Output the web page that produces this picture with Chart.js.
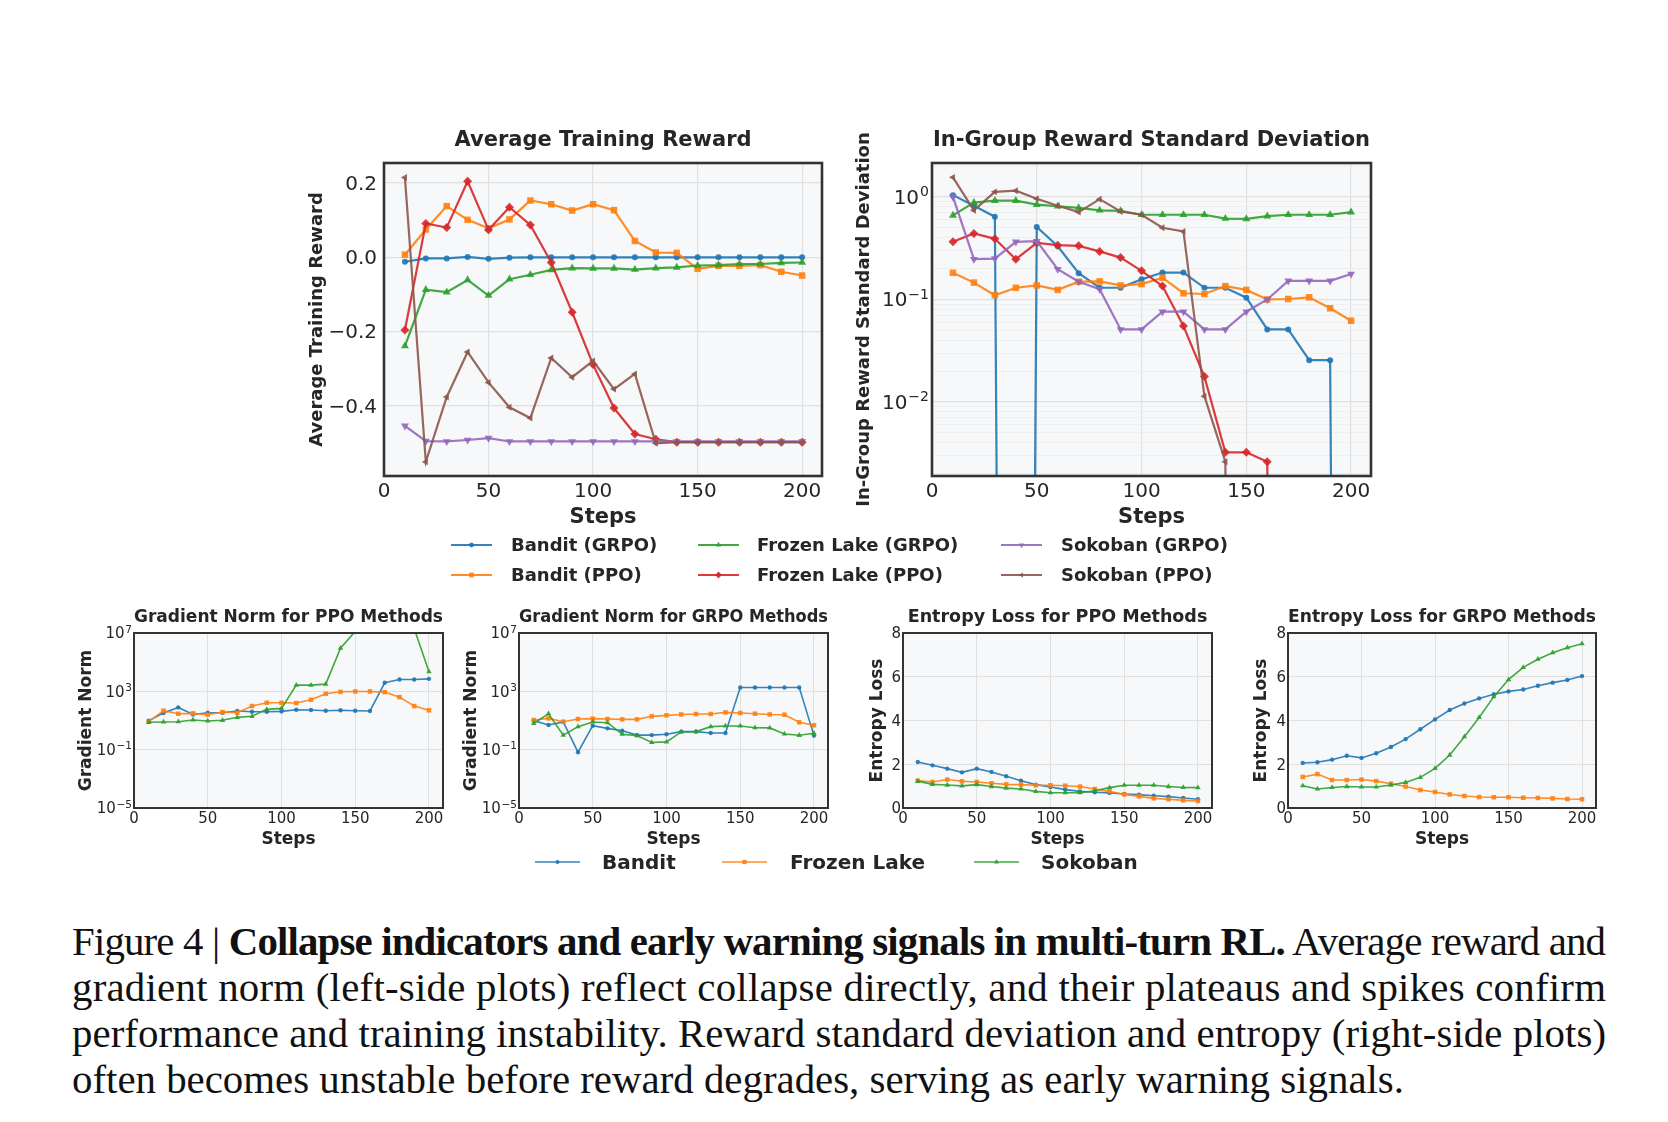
<!DOCTYPE html>
<html>
<head>
<meta charset="utf-8">
<title>Collapse indicators and early warning signals</title>
<script src="https://cdn.jsdelivr.net/npm/chart.js@4.4.1/dist/chart.umd.min.js"></script>
<style>
  html, body { margin: 0; background: #fff; }
  #page { position: relative; width: 1668px; height: 1122px; overflow: hidden; background: #fff; }
  #page canvas { position: absolute; }
  .lg { position: absolute; height: 30px; line-height: 30px; white-space: nowrap;
        font-family: "DejaVu Sans", sans-serif; font-weight: bold; color: #262626; }
  .sw { position: absolute; }
  #caption { position: absolute; left: 72px; top: 919px; width: 1534px;
             font-family: "Liberation Serif", serif; color: #111; }
  #caption .ln { height: 46px; line-height: 46px; white-space: nowrap; }
</style>
</head>
<body>
<div id="page">
  <div id="caption">
    <div class="ln"><span>Figure 4 | <b>Collapse indicators and early warning signals in multi-turn RL.</b> Average reward and</span></div>
    <div class="ln"><span>gradient norm (left-side plots) reflect collapse directly, and their plateaus and spikes confirm</span></div>
    <div class="ln"><span>performance and training instability. Reward standard deviation and entropy (right-side plots)</span></div>
    <div class="ln"><span>often becomes unstable before reward degrades, serving as early warning signals.</span></div>
  </div>
</div>
<script>
// ---- data ----
const steps = [10, 20, 30, 40, 50, 60, 70, 80, 90, 100, 110, 120, 130, 140, 150, 160, 170, 180, 190, 200];
const stepTicks = [0, 50, 100, 150, 200];

// Average Training Reward
const rewardBanditGrpo = [-0.012, -0.003, -0.003, 0.001, -0.004, -0.001, 0, 0, 0, 0, 0, 0, 0, 0, 0, 0, 0, 0, 0, 0];
const rewardBanditPpo = [0.007, 0.075, 0.138, 0.101, 0.078, 0.102, 0.153, 0.143, 0.126, 0.143, 0.127, 0.044, 0.013, 0.012, -0.031, -0.023, -0.023, -0.021, -0.039, -0.049];
const rewardFrozenGrpo = [-0.239, -0.087, -0.094, -0.061, -0.103, -0.059, -0.047, -0.034, -0.029, -0.030, -0.030, -0.033, -0.029, -0.027, -0.022, -0.021, -0.018, -0.018, -0.015, -0.014];
const rewardFrozenPpo = [-0.196, 0.091, 0.080, 0.205, 0.074, 0.135, 0.087, -0.014, -0.148, -0.289, -0.406, -0.476, -0.490, -0.498, -0.498, -0.498, -0.498, -0.498, -0.498, -0.498];
const rewardSokobanGrpo = [-0.454, -0.495, -0.496, -0.492, -0.487, -0.496, -0.496, -0.496, -0.496, -0.496, -0.496, -0.496, -0.496, -0.496, -0.496, -0.496, -0.496, -0.496, -0.496, -0.496];
const rewardSokobanPpo = [0.215, -0.551, -0.376, -0.255, -0.337, -0.404, -0.433, -0.271, -0.323, -0.279, -0.355, -0.314, -0.501, -0.498, -0.498, -0.498, -0.498, -0.498, -0.498, -0.498];
const rewardTicks = [-0.4, -0.2, 0.0, 0.2];

// In-Group Reward Standard Deviation (0 = collapsed, falls off the log axis)
const stdBanditGrpo = [1.04, 0.82, 0.64, 0, 0.51, 0.33, 0.18, 0.13, 0.13, 0.157, 0.183, 0.183, 0.13, 0.13, 0.104, 0.051, 0.051, 0.0256, 0.0256, 0];
const stdBanditPpo = [0.182, 0.146, 0.110, 0.130, 0.137, 0.124, 0.149, 0.150, 0.137, 0.141, 0.163, 0.115, 0.113, 0.135, 0.124, 0.100, 0.101, 0.105, 0.082, 0.062];
const stdFrozenGrpo = [0.66, 0.88, 0.92, 0.92, 0.84, 0.81, 0.78, 0.74, 0.73, 0.67, 0.67, 0.67, 0.67, 0.615, 0.61, 0.65, 0.67, 0.67, 0.67, 0.71];
const stdFrozenPpo = [0.365, 0.44, 0.39, 0.247, 0.356, 0.338, 0.333, 0.294, 0.256, 0.19, 0.135, 0.055, 0.0177, 0.00323, 0.00323, 0.00262, 0, 0, 0, 0];
const stdSokobanGrpo = [1.0, 0.247, 0.25, 0.365, 0.37, 0.197, 0.149, 0.126, 0.051, 0.051, 0.076, 0.076, 0.051, 0.051, 0.076, 0.1, 0.152, 0.152, 0.152, 0.177];
const stdSokobanPpo = [1.55, 0.74, 1.12, 1.15, 0.96, 0.82, 0.71, 0.95, 0.72, 0.67, 0.5, 0.46, 0.0114, 0.00262, 0, 0, 0, 0, 0, 0];
const stdTicks = [0.002, 0.003, 0.004, 0.005, 0.006, 0.007, 0.008, 0.009, 0.01,
                  0.02, 0.03, 0.04, 0.05, 0.06, 0.07, 0.08, 0.09, 0.1,
                  0.2, 0.3, 0.4, 0.5, 0.6, 0.7, 0.8, 0.9, 1, 2];
const stdTickLabels = [0.01, 0.1, 1];

// Gradient Norm
const gradPpoBandit = [9.8, 33, 79, 26, 34, 34, 45, 40, 40, 42, 55, 52, 47, 50, 47, 45, 3850, 6500, 6500, 7200];
const gradPpoFrozen = [8.3, 47, 29, 31, 25, 38, 34, 98, 165, 165, 157, 265, 680, 930, 980, 980, 885, 400, 98, 50];
const gradPpoSokoban = [7.5, 7.9, 8.3, 10.8, 9.3, 10.3, 16.5, 19.3, 58, 68, 2660, 2660, 3120, 9e5, 1.3e7, 3e7, 5e7, 4e7, 2e7, 2.2e4];
const gradGrpoBandit = [9.8, 4.9, 7.9, 0.067, 4.4, 2.9, 2.0, 1.0, 1.0, 1.14, 1.73, 1.73, 1.4, 1.4, 1850, 1850, 1850, 1850, 1850, 0.92];
const gradGrpoFrozen = [10.8, 14, 8.3, 12.7, 13.4, 12.7, 12, 12, 19.3, 22.5, 26, 27.8, 27.8, 36, 32.6, 29.3, 26, 25, 7.5, 4.7];
const gradGrpoSokoban = [6.4, 29, 1.0, 3.8, 7.9, 7.1, 1.14, 0.92, 0.31, 0.34, 1.64, 1.73, 3.8, 4.2, 4.2, 3.2, 3.1, 1.2, 0.97, 1.33];
const gradTicks = [1e-5, 1e-1, 1e3, 1e7];

// Entropy Loss
const entPpoBandit = [2.10, 1.95, 1.80, 1.63, 1.80, 1.65, 1.45, 1.25, 1.07, 0.96, 0.84, 0.76, 0.72, 0.69, 0.64, 0.61, 0.56, 0.52, 0.46, 0.40];
const entPpoFrozen = [1.25, 1.19, 1.30, 1.22, 1.19, 1.13, 1.08, 1.07, 1.04, 1.04, 1.02, 0.98, 0.87, 0.76, 0.62, 0.53, 0.44, 0.40, 0.35, 0.32];
const entPpoSokoban = [1.22, 1.08, 1.05, 1.01, 1.07, 0.98, 0.91, 0.87, 0.76, 0.70, 0.70, 0.70, 0.79, 0.93, 1.04, 1.04, 1.04, 0.98, 0.94, 0.93];
const entGrpoBandit = [2.06, 2.09, 2.21, 2.39, 2.29, 2.50, 2.79, 3.15, 3.60, 4.05, 4.48, 4.78, 5.01, 5.20, 5.33, 5.42, 5.59, 5.73, 5.85, 6.03];
const entGrpoFrozen = [1.42, 1.55, 1.28, 1.28, 1.30, 1.23, 1.11, 0.98, 0.82, 0.73, 0.62, 0.55, 0.50, 0.49, 0.49, 0.47, 0.46, 0.44, 0.41, 0.40];
const entGrpoSokoban = [1.02, 0.87, 0.94, 0.98, 0.96, 0.96, 1.05, 1.17, 1.40, 1.81, 2.42, 3.26, 4.14, 5.09, 5.87, 6.43, 6.80, 7.10, 7.33, 7.51];
const entropyTicks = [0, 2, 4, 6, 8];

// ---- styles ----
const INK = '#262626';
const GRID = '#e0e0e0';
const GRID_MINOR = '#ececec';
const PLOT_BG = '#f7f8fa';
const FRAME = '#333333';
const C = {
  blue: 'rgba(31,119,180,0.9)', orange: 'rgba(255,127,14,0.9)', green: 'rgba(44,160,44,0.9)',
  red: 'rgba(214,39,40,0.9)', purple: 'rgba(148,103,189,0.9)', brown: 'rgba(140,86,75,0.9)'
};
const topStyle = {
  banditGrpo: { color: C.blue, marker: 'circle', r: 3, rot: 0 },
  banditPpo: { color: C.orange, marker: 'rect', r: 4.6, rot: 0 },
  frozenGrpo: { color: C.green, marker: 'triangle', r: 4.6, rot: 0 },
  frozenPpo: { color: C.red, marker: 'rectRot', r: 4.5, rot: 0 },
  sokobanGrpo: { color: C.purple, marker: 'triangle', r: 4.6, rot: 180 },
  sokobanPpo: { color: C.brown, marker: 'triangle', r: 4, rot: 270 }
};
const envStyle = {
  bandit: { color: C.blue, marker: 'circle', r: 2.2, rot: 0 },
  frozen: { color: C.orange, marker: 'rect', r: 3.2, rot: 0 },
  sokoban: { color: C.green, marker: 'triangle', r: 3.2, rot: 0 }
};

Chart.defaults.font.family = "'DejaVu Sans', sans-serif";
Chart.defaults.color = INK;

const isDecade = v => Math.abs(Math.log10(v) - Math.round(Math.log10(v))) < 1e-6;
const LABEL_DROP = 1.5; // matplotlib centres tick labels slightly lower than canvas 'middle'

// plot background, full frame, the vertical y title and 10^n tick labels
const plotFrame = {
  id: 'plotFrame',
  beforeDraw(chart, args, o) {
    const { ctx, chartArea: a } = chart;
    ctx.save();
    ctx.fillStyle = o.fill;
    ctx.fillRect(a.left, a.top, a.width, a.height);
    ctx.restore();
  },
  afterDraw(chart, args, o) {
    const { ctx, chartArea: a } = chart;
    ctx.save();
    ctx.strokeStyle = o.stroke;
    ctx.lineWidth = o.width;
    ctx.strokeRect(a.left, a.top, a.width, a.height);

    if (o.logTicks) {
      const { values, size, pad } = o.logTicks;
      const ys = chart.scales.y;
      ctx.fillStyle = INK;
      ctx.textAlign = 'right';
      ctx.textBaseline = 'middle';
      values.forEach(v => {
        const py = ys.getPixelForValue(v) + LABEL_DROP;
        const exp = String(Math.round(Math.log10(v))).replace('-', '\u2212');
        const x = a.left - pad;
        ctx.font = `${size * 0.7}px 'DejaVu Sans'`;
        ctx.fillText(exp, x, py - size * 0.3);
        const ew = ctx.measureText(exp).width;
        ctx.font = `${size}px 'DejaVu Sans'`;
        ctx.fillText('10', x - ew - size * 0.05, py);
      });
    }

    if (o.yTitle) {
      ctx.translate(o.yTitleX, (a.top + a.bottom) / 2);
      ctx.rotate(-Math.PI / 2);
      ctx.font = `bold ${o.yTitleSize}px 'DejaVu Sans'`;
      ctx.fillStyle = INK;
      ctx.textAlign = 'center';
      ctx.textBaseline = 'middle';
      ctx.fillText(o.yTitle, 0, 0);
    }
    ctx.restore();
  }
};
Chart.register(plotFrame);

const page = document.getElementById('page');

function series(label, values, style, lw, order) {
  return {
    label,
    data: steps.map((s, i) => ({ x: s, y: values[i] })),
    borderColor: style.color,
    backgroundColor: style.color,
    pointBackgroundColor: style.color,
    borderWidth: lw,
    pointStyle: style.marker,
    pointRadius: style.r,
    pointRotation: style.rot,
    pointBorderWidth: 0,
    tension: 0,
    clip: 0,
    order
  };
}

function makeChart(p) {
  const tLine = p.titleSize * 1.2;
  const xLine = p.xTitleSize * 1.2;
  const left = Math.floor(p.yTitleX - p.yTitleSize);
  const top = Math.floor(p.titleMid - tLine / 2 - 2);
  const bottom = Math.ceil(p.xTitleMid + xLine / 2 + 2);
  const right = p.r + 24;
  const canvas = document.createElement('canvas');
  canvas.width = right - left;
  canvas.height = bottom - top;
  canvas.style.left = left + 'px';
  canvas.style.top = top + 'px';
  canvas.style.width = canvas.width + 'px';
  canvas.style.height = canvas.height + 'px';
  page.appendChild(canvas);
  const padTop = p.titleMid - tLine / 2 - top;

  return new Chart(canvas, {
    type: 'line',
    data: { datasets: p.datasets },
    options: {
      responsive: false,
      animation: false,
      devicePixelRatio: 1,
      layout: { padding: { left: 0, top: 0, right: 24, bottom: 0 } },
      plugins: {
        legend: { display: false },
        tooltip: { enabled: false },
        title: {
          display: true, text: p.title, fullSize: false, color: INK,
          font: { size: p.titleSize, weight: 'bold', lineHeight: 1.2 },
          padding: { top: padTop, bottom: p.t - top - padTop - tLine }
        },
        plotFrame: {
          fill: PLOT_BG, stroke: FRAME, width: p.frameWidth,
          yTitle: p.yTitle, yTitleX: p.yTitleX - left, yTitleSize: p.yTitleSize,
          logTicks: p.logTicks || null
        }
      },
      scales: {
        x: {
          type: 'linear', min: 0, max: 209.5,
          afterBuildTicks: s => { s.ticks = stepTicks.map(v => ({ value: v })); },
          afterFit: s => { s.height = bottom - p.b; },
          grid: { color: GRID, lineWidth: p.gridWidth, drawTicks: false },
          border: { display: false },
          ticks: { padding: p.xTickPad, color: INK, font: { size: p.tickSize, lineHeight: 1.2 },
                   autoSkip: false, maxRotation: 0, callback: v => String(v) },
          title: { display: true, text: 'Steps', color: INK,
                   font: { size: p.xTitleSize, weight: 'bold', lineHeight: 1.2 },
                   padding: { top: 0, bottom: bottom - p.xTitleMid - xLine / 2 } }
        },
        y: Object.assign({
          afterFit: s => { s.width = p.l - left; },
          border: { display: false }
        }, p.y)
      }
    }
  });
}

const TOP = { titleSize: 21, titleMid: 140.5, xTitleSize: 21, xTitleMid: 518, yTitleSize: 18,
              tickSize: 20, xTickPad: 4, frameWidth: 2.6, gridWidth: 1.2 };
const BOT = { titleSize: 17.5, titleMid: 617.5, xTitleSize: 17, xTitleMid: 840, yTitleSize: 17,
              tickSize: 15, xTickPad: 2.5, frameWidth: 2, gridWidth: 1 };

function topSets(v) {
  return [
    series('Bandit (GRPO)', v[0], topStyle.banditGrpo, 2.2, 6),
    series('Bandit (PPO)', v[1], topStyle.banditPpo, 2.2, 5),
    series('Frozen Lake (GRPO)', v[2], topStyle.frozenGrpo, 2.2, 4),
    series('Frozen Lake (PPO)', v[3], topStyle.frozenPpo, 2.2, 3),
    series('Sokoban (GRPO)', v[4], topStyle.sokobanGrpo, 2.2, 2),
    series('Sokoban (PPO)', v[5], topStyle.sokobanPpo, 2.2, 1)
  ];
}
function envSets(v) {
  return [
    series('Bandit', v[0], envStyle.bandit, 1.6, 3),
    series('Frozen Lake', v[1], envStyle.frozen, 1.6, 2),
    series('Sokoban', v[2], envStyle.sokoban, 1.6, 1)
  ];
}
// matplotlib sends log(0) to -inf: push zeros far below the axis so the line drops off the plot
const offLog = v => (v === 0 ? 1e-30 : v);

makeChart(Object.assign({}, TOP, {
  l: 384, t: 163, r: 822, b: 476, yTitleX: 317.5,
  title: 'Average Training Reward', yTitle: 'Average Training Reward',
  datasets: topSets([rewardBanditGrpo, rewardBanditPpo, rewardFrozenGrpo, rewardFrozenPpo, rewardSokobanGrpo, rewardSokobanPpo]),
  y: {
    type: 'linear', min: -0.589, max: 0.254,
    afterBuildTicks: s => { s.ticks = rewardTicks.map(v => ({ value: v })); },
    grid: { color: GRID, lineWidth: 1.2, drawTicks: false },
    ticks: { padding: 7, labelOffset: LABEL_DROP, color: INK, font: { size: 20 }, autoSkip: false,
             callback: v => v.toFixed(1).replace('-', '\u2212') }
  }
}));

makeChart(Object.assign({}, TOP, {
  l: 932, t: 163, r: 1371, b: 476, yTitleX: 864,
  title: 'In-Group Reward Standard Deviation', yTitle: 'In-Group Reward Standard Deviation',
  datasets: topSets([stdBanditGrpo, stdBanditPpo, stdFrozenGrpo, stdFrozenPpo, stdSokobanGrpo, stdSokobanPpo].map(a => a.map(offLog))),
  logTicks: { values: stdTickLabels, size: 20, pad: 3 },
  y: {
    type: 'logarithmic', min: 0.0019, max: 2.14,
    afterBuildTicks: s => { s.ticks = stdTicks.map(v => ({ value: v })); },
    grid: { color: c => (c.tick && isDecade(c.tick.value) ? GRID : GRID_MINOR),
            lineWidth: c => (c.tick && isDecade(c.tick.value) ? 1.2 : 0.8), drawTicks: false },
    ticks: { display: false }
  }
}));

const gradY = {
  type: 'logarithmic', min: 1e-5, max: 1e7,
  afterBuildTicks: s => { s.ticks = gradTicks.map(v => ({ value: v })); },
  grid: { color: GRID, lineWidth: 1, drawTicks: false },
  ticks: { display: false }
};
const entY = {
  type: 'linear', min: 0, max: 8,
  afterBuildTicks: s => { s.ticks = entropyTicks.map(v => ({ value: v })); },
  grid: { color: GRID, lineWidth: 1, drawTicks: false },
  ticks: { padding: 2, labelOffset: LABEL_DROP, color: INK, font: { size: 15 }, autoSkip: false,
           callback: v => String(v) }
};
const gradLabels = { values: gradTicks, size: 15, pad: 2 };

makeChart(Object.assign({}, BOT, {
  l: 134, t: 633, r: 443, b: 808, yTitleX: 86.5,
  title: 'Gradient Norm for PPO Methods', yTitle: 'Gradient Norm', logTicks: gradLabels,
  datasets: envSets([gradPpoBandit, gradPpoFrozen, gradPpoSokoban]), y: gradY
}));
makeChart(Object.assign({}, BOT, {
  l: 519, t: 633, r: 828, b: 808, yTitleX: 471.5,
  title: 'Gradient Norm for GRPO Methods', yTitle: 'Gradient Norm', logTicks: gradLabels,
  datasets: envSets([gradGrpoBandit, gradGrpoFrozen, gradGrpoSokoban]), y: gradY
}));
makeChart(Object.assign({}, BOT, {
  l: 903, t: 633, r: 1212, b: 808, yTitleX: 877.5,
  title: 'Entropy Loss for PPO Methods', yTitle: 'Entropy Loss',
  datasets: envSets([entPpoBandit, entPpoFrozen, entPpoSokoban]), y: entY
}));
makeChart(Object.assign({}, BOT, {
  l: 1288, t: 633, r: 1596, b: 808, yTitleX: 1261.5,
  title: 'Entropy Loss for GRPO Methods', yTitle: 'Entropy Loss',
  datasets: envSets([entGrpoBandit, entGrpoFrozen, entGrpoSokoban]), y: entY
}));

// ---- legends ----
function swatch(style, len, lw, r) {
  const h = 20, cy = 10, cx = len / 2;
  let mark;
  if (style.marker === 'circle') {
    mark = `<circle cx="${cx}" cy="${cy}" r="${r}"/>`;
  } else if (style.marker === 'rect') {
    const s = r * 0.707;
    mark = `<rect x="${cx - s}" y="${cy - s}" width="${2 * s}" height="${2 * s}"/>`;
  } else if (style.marker === 'rectRot') {
    mark = `<polygon points="${cx},${cy - r} ${cx + r},${cy} ${cx},${cy + r} ${cx - r},${cy}"/>`;
  } else {
    const pts = [0, 1, 2].map(k => {
      const a = (style.rot + k * 120) * Math.PI / 180;
      return `${cx + Math.sin(a) * r},${cy - Math.cos(a) * r}`;
    }).join(' ');
    mark = `<polygon points="${pts}"/>`;
  }
  return `<svg width="${len}" height="${h}" viewBox="0 0 ${len} ${h}"><g fill="${style.color}">` +
         `<line x1="0" y1="${cy}" x2="${len}" y2="${cy}" stroke="${style.color}" stroke-width="${lw}"/>${mark}</g></svg>`;
}
function legendItem(label, style, lineX, lineLen, textX, y, size, lw, r) {
  const sw = document.createElement('div');
  sw.className = 'sw';
  sw.style.left = lineX + 'px';
  sw.style.top = (y - 10) + 'px';
  sw.innerHTML = swatch(style, lineLen, lw, r);
  page.appendChild(sw);
  const tx = document.createElement('div');
  tx.className = 'lg';
  tx.style.left = textX + 'px';
  tx.style.top = (y - 15) + 'px';
  tx.style.fontSize = size + 'px';
  tx.textContent = label;
  page.appendChild(tx);
}
legendItem('Bandit (GRPO)', topStyle.banditGrpo, 451, 41, 511, 545, 18, 2.2, 2.4);
legendItem('Bandit (PPO)', topStyle.banditPpo, 451, 41, 511, 575, 18, 2.2, 3.4);
legendItem('Frozen Lake (GRPO)', topStyle.frozenGrpo, 698, 41, 757, 545, 18, 2.2, 3.2);
legendItem('Frozen Lake (PPO)', topStyle.frozenPpo, 698, 41, 757, 575, 18, 2.2, 3.4);
legendItem('Sokoban (GRPO)', topStyle.sokobanGrpo, 1001, 41, 1061, 545, 18, 2.2, 3.2);
legendItem('Sokoban (PPO)', topStyle.sokobanPpo, 1001, 41, 1061, 575, 18, 2.2, 3);

legendItem('Bandit', envStyle.bandit, 535, 45, 602, 861.5, 20, 1.6, 2);
legendItem('Frozen Lake', envStyle.frozen, 722, 45, 790, 861.5, 20, 1.6, 3);
legendItem('Sokoban', envStyle.sokoban, 974, 45, 1041, 861.5, 20, 1.6, 3);

// ---- caption: size from the last line, spread the others to the full width ----
const cap = document.getElementById('caption');
const capSpans = [...cap.querySelectorAll('.ln span')];
cap.style.fontSize = '36px';
const lastW = capSpans[3].getBoundingClientRect().width;
cap.style.fontSize = (36 * 1332 / lastW).toFixed(2) + 'px';
capSpans.slice(0, 3).forEach(sp => {
  const w = sp.getBoundingClientRect().width;
  const n = sp.textContent.length - 1;
  sp.style.letterSpacing = ((1534 - w) / n).toFixed(3) + 'px';
});
</script>
</body>
</html>
